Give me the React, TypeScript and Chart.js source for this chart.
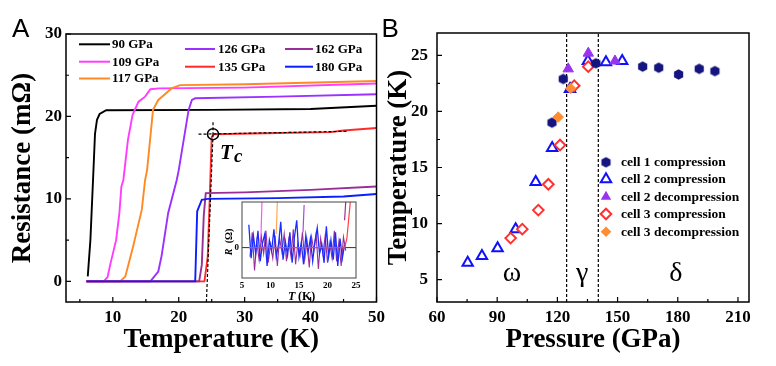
import React, { useEffect, useRef } from "react";
import { Chart, registerables } from "chart.js";

Chart.register(...registerables);

const SERIF = '"Liberation Serif", "Times New Roman", Times, serif';
const SANS = '"Liberation Sans", Arial, sans-serif';

// ---------------- Panel A : R(T) curves ----------------
const curveLabels = ["90 GPa", "109 GPa", "117 GPa", "126 GPa", "135 GPa", "162 GPa", "180 GPa"];
const curveColors = ["#000000", "#ff3cff", "#ff8a24", "#9b30ff", "#ff2a2a", "#992e99", "#0a1eff"];

const t90 = [6.2, 6.6, 7.0, 7.3, 7.6, 8.0, 9.0, 25, 40, 50];
const r90 = [0.6, 5.0, 12.3, 17.9, 19.6, 20.3, 20.75, 20.8, 20.9, 21.3];
const t109 = [6.0, 8.6, 9.2, 9.6, 10.5, 11.0, 11.3, 11.6, 12.3, 13.0, 13.9, 14.9, 15.7, 17.0, 30, 50];
const r109 = [0, 0, 0.5, 2.0, 5.0, 8.3, 11.5, 12.3, 17.2, 20.2, 21.8, 22.4, 23.3, 23.4, 23.5, 24.0];
const t117 = [6.0, 11.1, 11.9, 13.1, 14.4, 14.9, 15.2, 16.1, 16.9, 17.9, 18.9, 20.2, 30, 50];
const r117 = [0, 0, 0.6, 4.3, 8.7, 12.3, 13.5, 20.8, 22.0, 22.7, 23.4, 23.8, 23.9, 24.3];
const t126 = [6.0, 15.7, 16.9, 17.4, 18.4, 19.7, 20.0, 21.5, 22.0, 22.5, 35, 50];
const r126 = [0, 0, 1.2, 3.1, 8.3, 12.3, 13.5, 20.8, 22.0, 22.2, 22.4, 22.7];
const t135 = [6.0, 23.9, 24.4, 24.7, 25.0, 25.3, 35, 43, 45, 50];
const r135 = [0, 0, 3.0, 10.0, 17.5, 17.85, 18.0, 18.1, 18.3, 18.6];
const t162 = [6.0, 23.1, 23.5, 23.8, 24.1, 30, 40, 50];
const r162 = [0, 0, 2.0, 8.0, 10.7, 10.8, 11.1, 11.5];
const t180 = [6.0, 22.5, 22.8, 23.5, 24.4, 35, 45, 50];
const r180 = [0, 0, 8.5, 9.9, 10.0, 10.1, 10.3, 10.6];
const curveTs = [t90, t109, t117, t126, t135, t162, t180];
const curveRs = [r90, r109, r117, r126, r135, r162, r180];

// Tc construction
const tcT = [25.2];
const tcR = [17.85];
const guideHT = [23.0, 45.5];
const guideHR = [17.85, 18.2];
const guideVT = [25.2, 25.2];
const guideVR = [19.3, 17.85];
const guideFitT = [25.2, 24.2];
const guideFitR = [17.85, -2.5];

const aXTicks = [10, 20, 30, 40, 50];
const aXMinor = [5, 15, 25, 35, 45];
const aYTicks = [0, 10, 20, 30];
const aYMinor = [5, 15, 25];

// ---------------- Inset ----------------
const insetTB = [6.2, 6.6, 7.0, 7.4, 7.8, 8.2, 8.6, 9.0, 9.4, 9.8, 10.2, 10.6, 11.0, 11.4, 11.8, 12.2, 12.6, 13.0, 13.4, 13.8, 14.2, 14.6, 15.0, 15.4, 15.8, 16.2, 16.6, 17.0, 17.4, 17.8, 18.2, 18.6, 19.0, 19.4, 19.8, 20.2, 20.6, 21.0, 21.4, 21.8, 22.2, 22.6, 23.0];
const insetRB = [0.75, -0.35, 0.4, -0.2, 0.55, -0.45, 0.15, 0.45, -0.6, 0.25, -0.1, 0.6, -0.3, 0.1, 0.85, -0.4, 0.2, -0.25, 0.5, -0.5, 0.35, 0.9, -0.3, 0.15, -0.55, 0.4, -0.15, 0.3, -0.45, 0.2, 0.65, -0.2, 0.1, -0.5, 0.7, -0.3, 0.25, -0.4, 0.5, -0.6, 0.3, -0.35, 0.1];
const insetTP = [6.4, 6.8, 7.2, 7.6, 8.0, 8.4, 8.8, 9.2, 9.6, 10.0, 10.4, 10.8, 11.2, 11.6, 12.0, 12.4, 12.8, 13.2, 13.6, 14.0, 14.4, 14.8, 15.2, 15.6, 16.0, 16.4, 16.8, 17.2, 17.6, 18.0, 18.4, 18.8, 19.2, 19.6, 20.0, 20.4, 20.8, 21.2, 21.6, 22.0, 22.4, 22.8, 23.2];
const insetRP = [-0.3, 0.5, -0.75, 0.2, -0.4, 0.35, -0.2, 0.55, -0.5, 0.1, -0.35, 0.4, -0.6, 0.3, -0.15, 0.45, -0.45, 0.25, -0.3, 0.6, -0.55, 0.15, -0.25, 0.5, -0.4, 0.2, -0.65, 0.35, -0.1, 0.45, -0.7, 0.3, -0.2, 0.4, -0.5, 0.15, -0.35, 0.55, -0.45, 0.2, -0.6, 0.35, -0.1];
const insetRedT = [6.2, 23.0, 23.4, 23.7, 24.0];
const insetRedR = [0, 0, 0.3, 0.9, 1.5];
const spikeMagT = [8.3, 8.5];
const spikeMagR = [0.2, 1.5];
const spikeOrT = [11.0, 11.2];
const spikeOrR = [0.45, 1.5];
const spikePurT = [15.7, 15.9];
const spikePurR = [0.5, 1.4];
const spikeMarT = [23.0, 23.2];
const spikeMarR = [0.9, 1.5];
const insetXTicks = [5, 10, 15, 20, 25];

// ---------------- Panel B : Tc(P) ----------------
const cellLabels = ["cell 1 compression", "cell 2 compression", "cell 2 decompression", "cell 3 compression", "cell 3 decompression"];
const cellColors = ["#15157f", "#1010ff", "#9933ee", "#ff3030", "#ff8c30"];
const cell1P = [117.3, 122.9, 139.2, 162.5, 170.5, 180.4, 190.7, 198.5];
const cell1T = [19.0, 22.9, 24.3, 24.0, 23.9, 23.3, 23.8, 23.6];
const cell2cP = [75.3, 82.4, 90.2, 99.2, 109.2, 117.4, 126.3, 135.2, 144.2, 152.3];
const cell2cT = [6.5, 7.1, 7.8, 9.5, 13.7, 16.75, 22.0, 24.5, 24.4, 24.5];
const cell2dP = [125.4, 135.4, 148.7];
const cell2dT = [23.8, 25.2, 24.5];
const cell3cP = [96.7, 102.5, 110.5, 115.5, 121.3, 128.4, 135.4];
const cell3cT = [8.7, 9.5, 11.2, 13.5, 17.0, 22.3, 24.0];
const cell3dP = [120.4, 126.6];
const cell3dT = [19.5, 22.05];
const boundaryP = [124.6, 140.4];
const phaseNames = ["ω", "γ", "δ"];
const phaseP = [97.4, 132.4, 179.0];
const phaseY = 4.9;

const bXTicks = [60, 90, 120, 150, 180, 210];
const bXMinor = [75, 105, 135, 165, 195];
const bYTicks = [5, 10, 15, 20, 25];
const bYMinor = [7.5, 12.5, 17.5, 22.5];

const pts = (xs: number[], ys: number[]) => xs.map((x, i) => ({ x, y: ys[i] }));

function makeHexagon(color: string, r: number): HTMLCanvasElement {
  const size = Math.ceil(r * 2 + 2);
  const c = document.createElement("canvas");
  c.width = size;
  c.height = size;
  const g = c.getContext("2d")!;
  g.fillStyle = color;
  g.beginPath();
  for (let i = 0; i < 6; i++) {
    const a = Math.PI / 6 + (i * Math.PI) / 3;
    const px = size / 2 + r * Math.cos(a);
    const py = size / 2 + r * Math.sin(a);
    if (i === 0) g.moveTo(px, py);
    else g.lineTo(px, py);
  }
  g.closePath();
  g.fill();
  return c;
}

function drawFrameAndTicks(chart: any, xMaj: number[], xMin: number[], yMaj: number[], yMin: number[], lw: number) {
  const { ctx, chartArea: ca, scales } = chart;
  const x = scales.x;
  const y = scales.y;
  ctx.save();
  ctx.strokeStyle = "#000";
  ctx.lineWidth = lw;
  ctx.strokeRect(ca.left, ca.top, ca.right - ca.left, ca.bottom - ca.top);
  ctx.lineWidth = 1.2;
  ctx.beginPath();
  const tickX = (v: number, len: number) => {
    const p = x.getPixelForValue(v);
    ctx.moveTo(p, ca.bottom);
    ctx.lineTo(p, ca.bottom - len);
  };
  const tickY = (v: number, len: number) => {
    const p = y.getPixelForValue(v);
    ctx.moveTo(ca.left, p);
    ctx.lineTo(ca.left + len, p);
  };
  xMaj.forEach((v) => tickX(v, 5));
  xMin.forEach((v) => tickX(v, 3));
  yMaj.forEach((v) => tickY(v, 5));
  yMin.forEach((v) => tickY(v, 3));
  ctx.stroke();
  ctx.restore();
}

function linScale(min: number, max: number, ticks: number[], fit: number, horizontal: boolean, fontSize: number, pad: number, title: string, titlePad: any) {
  return {
    type: "linear",
    min,
    max,
    afterBuildTicks: (s: any) => {
      s.ticks = ticks.map((v) => ({ value: v }));
    },
    afterFit: (s: any) => {
      if (horizontal) s.height = fit;
      else s.width = fit;
    },
    grid: { display: false, drawTicks: false },
    border: { display: false },
    ticks: {
      autoSkip: false,
      maxRotation: 0,
      color: "#000",
      padding: pad,
      font: { family: SERIF, size: fontSize, weight: "bold" },
    },
    title: {
      display: !!title,
      text: title,
      color: "#000",
      font: { family: SERIF, size: 27, weight: "bold" },
      padding: titlePad,
    },
  };
}

function configA(): any {
  const datasets: any[] = curveLabels.map((label, i) => ({
    label,
    data: pts(curveTs[i], curveRs[i]),
    showLine: true,
    borderColor: curveColors[i],
    borderWidth: 1.9,
    pointRadius: 0,
    order: 10 - i,
  }));
  const dash = { showLine: true, borderColor: "#000", borderWidth: 1.2, borderDash: [3, 2], pointRadius: 0, order: 0 };
  datasets.push({ label: "guideH", data: pts(guideHT, guideHR), ...dash });
  datasets.push({ label: "guideV", data: pts(guideVT, guideVR), ...dash });
  datasets.push({ label: "guideFit", data: pts(guideFitT, guideFitR), ...dash });
  datasets.push({
    label: "Tc",
    data: pts(tcT, tcR),
    showLine: false,
    pointRadius: 5.5,
    pointStyle: "circle",
    pointBorderColor: "#000",
    pointBorderWidth: 1.5,
    pointBackgroundColor: "rgba(0,0,0,0)",
    order: 0,
  });

  const plugin = {
    id: "panelA",
    afterDatasetsDraw(chart: any) {
      drawFrameAndTicks(chart, aXTicks, aXMinor, aYTicks, aYMinor, 1.5);
      const ctx = chart.ctx;
      ctx.save();
      // legend
      const cols = [
        { lx0: 79, lx1: 110, tx: 112, ys: [44.3, 61.7, 78.5], idx: [0, 1, 2] },
        { lx0: 185, lx1: 215, tx: 218, ys: [49, 66.7], idx: [3, 4] },
        { lx0: 285, lx1: 313, tx: 315, ys: [49, 66.7], idx: [5, 6] },
      ];
      ctx.font = `bold 13px ${SERIF}`;
      ctx.textBaseline = "middle";
      ctx.textAlign = "left";
      cols.forEach((c) => {
        c.idx.forEach((k, j) => {
          ctx.strokeStyle = curveColors[k];
          ctx.lineWidth = 2;
          ctx.beginPath();
          ctx.moveTo(c.lx0, c.ys[j]);
          ctx.lineTo(c.lx1, c.ys[j]);
          ctx.stroke();
          ctx.fillStyle = "#000";
          ctx.fillText(curveLabels[k], c.tx, c.ys[j] + 0.5);
        });
      });
      // Tc label
      ctx.textBaseline = "alphabetic";
      ctx.font = `italic bold 21px ${SERIF}`;
      ctx.fillText("T", 220, 158.5);
      ctx.font = `italic bold 19px ${SERIF}`;
      ctx.fillText("c", 234, 162);
      // panel letter
      ctx.font = `26px ${SANS}`;
      ctx.fillText("A", 12, 37);
      ctx.restore();
    },
  };

  return {
    type: "scatter",
    data: { datasets },
    options: {
      animation: false,
      responsive: false,
      devicePixelRatio: 1,
      layout: { padding: { left: 0, top: 34, right: 12, bottom: 0 } },
      plugins: { legend: { display: false }, tooltip: { enabled: false } },
      scales: {
        x: linScale(2.9, 50, aXTicks, 64, true, 17, 5, "Temperature (K)", { top: 0, bottom: 10 }),
        y: linScale(-2.5, 30, aYTicks, 66, false, 17, 4, "Resistance (mΩ)", { top: 7, bottom: 0 }),
      },
    },
    plugins: [plugin],
  };
}

function configInset(): any {
  const line = (label: string, xs: number[], ys: number[], color: string, w = 1) => ({
    label,
    data: pts(xs, ys),
    showLine: true,
    borderColor: color,
    borderWidth: w,
    pointRadius: 0,
  });
  const datasets = [
    line("red", insetRedT, insetRedR, "#ff4040", 1.2),
    line("blue", insetTB, insetRB, "#1a2cff", 1.3),
    line("purple", insetTP, insetRP, "#9a2f9a", 1.1),
    line("mag", spikeMagT, spikeMagR, "#ff55ff", 1.2),
    line("orange", spikeOrT, spikeOrR, "#ffaa55", 1.2),
    line("pur", spikePurT, spikePurR, "#a84ce0", 1.2),
    line("mar", spikeMarT, spikeMarR, "#9a2f9a", 1.2),
  ];
  const plugin = {
    id: "inset",
    beforeDatasetsDraw(chart: any) {
      const { ctx, chartArea: ca, scales } = chart;
      ctx.save();
      ctx.strokeStyle = "#333";
      ctx.lineWidth = 1;
      const y0 = scales.y.getPixelForValue(0);
      ctx.beginPath();
      ctx.moveTo(ca.left, y0);
      ctx.lineTo(ca.right, y0);
      ctx.stroke();
      ctx.restore();
    },
    afterDatasetsDraw(chart: any) {
      const { ctx, chartArea: ca } = chart;
      ctx.save();
      ctx.strokeStyle = "#444";
      ctx.lineWidth = 1;
      ctx.strokeRect(ca.left, ca.top, ca.right - ca.left, ca.bottom - ca.top);
      ctx.fillStyle = "#000";
      ctx.textBaseline = "alphabetic";
      // x title
      ctx.font = `italic bold 12px ${SERIF}`;
      const cx = 87;
      ctx.fillText("T", cx - 14, 108);
      ctx.font = `bold 12px ${SERIF}`;
      ctx.fillText(" (K)", cx - 7, 108);
      // y title
      ctx.translate(17, (ca.top + ca.bottom) / 2 + 2);
      ctx.rotate(-Math.PI / 2);
      ctx.textAlign = "center";
      ctx.font = `italic bold 10px ${SERIF}`;
      ctx.fillText("R", -10, 0);
      ctx.font = `bold 10px ${SERIF}`;
      ctx.fillText("(Ω)", 6, 0);
      ctx.restore();
    },
  };
  return {
    type: "scatter",
    data: { datasets },
    options: {
      animation: false,
      responsive: false,
      devicePixelRatio: 1,
      layout: { padding: { left: 0, top: 10, right: 9, bottom: 0 } },
      plugins: { legend: { display: false }, tooltip: { enabled: false } },
      scales: {
        x: linScale(5, 25, insetXTicks, 26, true, 9, 2, "", {}),
        y: linScale(-1, 1.5, [0], 27, false, 9, 3, "", {}),
      },
    },
    plugins: [plugin],
  };
}

function configB(): any {
  const hex = makeHexagon(cellColors[0], 5.3);
  const datasets: any[] = [
    { label: cellLabels[0], data: pts(cell1P, cell1T), pointStyle: hex, pointRadius: 5, order: 1 },
    { label: cellLabels[1], data: pts(cell2cP, cell2cT), pointStyle: "triangle", pointRadius: 6, pointBorderColor: cellColors[1], pointBackgroundColor: "rgba(255,255,255,0)", pointBorderWidth: 2, order: 4 },
    { label: cellLabels[2], data: pts(cell2dP, cell2dT), pointStyle: "triangle", pointRadius: 6, pointBorderColor: cellColors[2], pointBackgroundColor: cellColors[2], pointBorderWidth: 1, order: 2 },
    { label: cellLabels[3], data: pts(cell3cP, cell3cT), pointStyle: "rectRot", pointRadius: 5.3, pointBorderColor: cellColors[3], pointBackgroundColor: "#ffffff", pointBorderWidth: 2, order: 3 },
    { label: cellLabels[4], data: pts(cell3dP, cell3dT), pointStyle: "rectRot", pointRadius: 5.3, pointBorderColor: cellColors[4], pointBackgroundColor: cellColors[4], pointBorderWidth: 1, order: 0 },
  ];
  boundaryP.forEach((p, i) => {
    datasets.push({
      label: "boundary" + i,
      data: [{ x: p, y: 3 }, { x: p, y: 27 }],
      showLine: true,
      borderColor: "#000",
      borderWidth: 1.2,
      borderDash: [3, 2],
      pointRadius: 0,
      order: 5,
    });
  });

  const plugin = {
    id: "panelB",
    afterDatasetsDraw(chart: any) {
      drawFrameAndTicks(chart, bXTicks, bXMinor, bYTicks, bYMinor, 1.5);
      const { ctx, scales } = chart;
      ctx.save();
      // phase names
      ctx.fillStyle = "#000";
      ctx.textAlign = "center";
      ctx.textBaseline = "alphabetic";
      ctx.font = `28px ${SERIF}`;
      phaseNames.forEach((n, i) => {
        ctx.fillText(n, scales.x.getPixelForValue(phaseP[i]), scales.y.getPixelForValue(phaseY));
      });
      // legend
      const mx = 228;
      const tx = 243;
      const rows = [162.3, 179.3, 196.7, 214, 231.7];
      ctx.textAlign = "left";
      ctx.textBaseline = "middle";
      rows.forEach((ry, i) => {
        ctx.save();
        if (i === 0) {
          ctx.drawImage(hex, mx - hex.width / 2, ry - hex.height / 2);
        } else if (i === 1 || i === 2) {
          const r = 6;
          ctx.beginPath();
          ctx.moveTo(mx, ry - r);
          ctx.lineTo(mx + r * Math.sin((2 * Math.PI) / 3), ry - r * Math.cos((2 * Math.PI) / 3));
          ctx.lineTo(mx + r * Math.sin((4 * Math.PI) / 3), ry - r * Math.cos((4 * Math.PI) / 3));
          ctx.closePath();
          if (i === 1) {
            ctx.strokeStyle = cellColors[1];
            ctx.lineWidth = 2;
            ctx.stroke();
          } else {
            ctx.fillStyle = cellColors[2];
            ctx.fill();
          }
        } else {
          const r = 5.3;
          ctx.beginPath();
          ctx.moveTo(mx - r, ry);
          ctx.lineTo(mx, ry - r);
          ctx.lineTo(mx + r, ry);
          ctx.lineTo(mx, ry + r);
          ctx.closePath();
          if (i === 3) {
            ctx.fillStyle = "#fff";
            ctx.fill();
            ctx.strokeStyle = cellColors[3];
            ctx.lineWidth = 2;
            ctx.stroke();
          } else {
            ctx.fillStyle = cellColors[4];
            ctx.fill();
          }
        }
        ctx.restore();
        ctx.fillStyle = "#000";
        ctx.font = `bold 13.5px ${SERIF}`;
        ctx.fillText(cellLabels[i], tx, ry + 0.5);
      });
      // panel letter
      ctx.textBaseline = "alphabetic";
      ctx.font = `26px ${SANS}`;
      ctx.fillText("B", 3.5, 37);
      ctx.restore();
    },
  };

  return {
    type: "scatter",
    data: { datasets },
    options: {
      animation: false,
      responsive: false,
      devicePixelRatio: 1,
      layout: { padding: { left: 0, top: 33, right: 27, bottom: 0 } },
      plugins: { legend: { display: false }, tooltip: { enabled: false } },
      scales: {
        x: linScale(60, 215.5, bXTicks, 64, true, 17, 5, "Pressure (GPa)", { top: 0, bottom: 10 }),
        y: linScale(3, 27, bYTicks, 59, false, 17, 9, "Temperature (K)", { top: 5, bottom: 0 }),
      },
    },
    plugins: [plugin],
  };
}

export default function App() {
  const aRef = useRef<HTMLCanvasElement>(null);
  const bRef = useRef<HTMLCanvasElement>(null);
  const iRef = useRef<HTMLCanvasElement>(null);
  useEffect(() => {
    const charts: Chart[] = [];
    charts.push(new Chart(aRef.current!, configA()));
    charts.push(new Chart(bRef.current!, configB()));
    charts.push(new Chart(iRef.current!, configInset()));
    return () => charts.forEach((c) => c.destroy());
  }, []);
  return (
    <div style={{ position: "fixed", left: 0, top: 0, width: 776, height: 366, background: "#fff", overflow: "hidden" }}>
      <canvas ref={aRef} width={390} height={366} style={{ position: "absolute", left: 0, top: 0 }} />
      <canvas ref={bRef} width={398} height={366} style={{ position: "absolute", left: 378, top: 0 }} />
      <canvas ref={iRef} width={150} height={112} style={{ position: "absolute", left: 215, top: 192 }} />
    </div>
  );
}
